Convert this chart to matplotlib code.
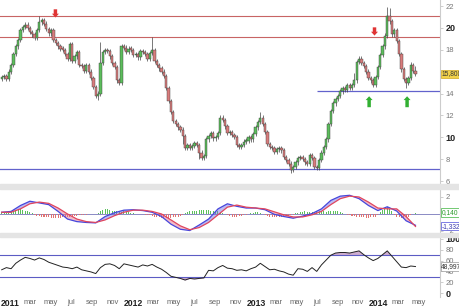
import numpy as np
import pandas as pd
import matplotlib
matplotlib.use('Agg')
import matplotlib.pyplot as plt
from matplotlib.patches import Rectangle

plt.rcParams['font.family'] = ['Liberation Sans', 'DejaVu Sans']

# weekly candles, Dec 2010 - Apr 2014
weeks = pd.date_range('2010-12-06', periods=177, freq='7D')
close = [15.5, 15.6, 15.3, 16.0, 16.6, 17.6, 18.3, 18.9, 19.8, 20.1,
         20.3, 20.0, 19.6, 19.4, 19.1, 19.8, 20.5, 20.7, 20.4, 19.9,
         19.5, 19.8, 18.9, 18.6, 18.3, 18.1, 18.0, 17.6, 17.2, 18.5,
         17.0, 17.4, 17.8, 16.6, 16.5, 16.1, 16.6, 16.0, 15.4, 14.6,
         13.8, 14.0, 16.8, 17.8, 18.0, 17.9, 17.4, 16.8, 16.4, 15.2,
         15.0, 18.3, 18.2, 17.8, 18.1, 18.0, 17.5, 17.6, 17.3, 17.9,
         17.8, 17.6, 17.2, 17.7, 18.0, 17.0, 16.6, 16.3, 16.0, 15.6,
         14.5, 13.3, 12.3, 11.5, 11.2, 10.9, 10.7, 10.1, 9.0, 9.3,
         9.0, 9.2, 9.5, 9.3, 8.6, 8.1, 8.3, 9.8, 10.1, 10.4,
         9.9, 10.0, 10.4, 11.8, 11.6, 11.0, 10.4, 10.5, 10.2, 10.0,
         9.3, 9.1, 9.3, 9.6, 9.7, 10.0, 9.8, 10.3, 10.9, 11.4,
         11.8, 11.2, 10.5, 9.4, 9.1, 9.0, 8.7, 8.9, 9.0, 8.8,
         8.2, 7.9, 7.6, 7.0, 7.3, 7.7, 8.1, 8.2, 8.0, 7.7,
         7.6, 8.4, 8.1, 7.3, 7.2, 7.9, 8.6, 9.1, 9.8, 11.2,
         12.4, 13.1, 13.5, 13.8, 14.2, 14.5, 14.3, 14.8, 14.5, 14.8,
         15.2, 16.9, 17.2, 16.8, 16.5, 16.0, 15.4, 15.2, 14.8, 15.5,
         16.4, 17.5, 18.3, 19.3, 21.1, 20.6, 19.4, 19.8, 18.8, 17.6,
         16.2, 15.3, 15.0, 15.4, 16.6, 16.1, 15.8]
first_open = 15.3
long_highs = {16: 21.1, 42: 18.7, 64: 19.2, 110: 12.3, 150: 15.9, 164: 21.9,
              165: 21.8, 174: 16.9, 176: 16.5}
long_lows = {41: 13.4, 77: 9.4, 84: 8.0, 123: 6.7, 134: 7.0, 172: 14.5}

# MACD (every 4th week)
macd = [0.2, 0.3, 1.0, 1.5, 1.3, 1.1, 0.3, -0.6, -0.9, -1.0,
        -1.05, -0.3, 0.15, 0.45, 0.5, 0.4, 0.2, -0.3, -1.2, -1.8,
        -1.95, -1.3, -0.6, 0.6, 1.2, 0.9, 0.7, 0.7, 0.5, -0.05,
        -0.3, -0.5, -0.25, 0.05, 0.6, 1.6, 2.1, 2.2, 1.8, 1.0,
        0.4, 0.85, 0.35, -0.8, -1.332]
signal = [0.2, 0.2, 0.6, 1.2, 1.4, 1.25, 0.7, 0.0, -0.6, -0.9,
          -1.0, -0.7, -0.2, 0.2, 0.45, 0.45, 0.3, 0.0, -0.7, -1.4,
          -1.85, -1.6, -1.0, -0.1, 0.8, 1.05, 0.8, 0.7, 0.6, 0.25,
          -0.1, -0.35, -0.35, -0.1, 0.3, 1.1, 1.8, 2.1, 2.0, 1.4,
          0.7, 0.6, 0.6, -0.3, -1.47]
hist = [0.1, 0.1, 0.1, 0.1, 0.3, 0.4, 0.5, 0.6, 0.6, 0.5,
        0.4, 0.3, 0.2, 0.1, -0.1, -0.2, -0.2, -0.3, -0.4, -0.4,
        -0.4, -0.5, -0.5, -0.5, -0.5, -0.5, -0.4, -0.4, -0.3, -0.3,
        -0.3, -0.2, -0.2, -0.1, -0.1, -0.1, -0.1, -0.05, -0.05, 0.0,
        0.05, 0.1, 0.3, 0.5, 0.6, 0.6, 0.5, 0.4, 0.4, 0.3,
        0.2, 0.2, 0.3, 0.2, 0.2, 0.1, 0.1, 0.05, 0.05, 0.0,
        -0.05, -0.1, -0.1, -0.1, -0.2, -0.3, -0.4, -0.4, -0.5, -0.5,
        -0.5, -0.5, -0.5, -0.4, -0.4, -0.3, -0.2, -0.1, 0.1, 0.2,
        0.3, 0.3, 0.4, 0.4, 0.5, 0.5, 0.5, 0.5, 0.5, 0.4,
        0.4, 0.3, 0.3, 0.2, 0.1, 0.0, -0.1, -0.2, -0.3, -0.3,
        -0.3, -0.2, -0.2, -0.1, -0.1, 0.0, 0.1, 0.1, 0.2, 0.2,
        0.1, 0.0, -0.1, -0.2, -0.3, -0.4, -0.4, -0.4, -0.3, -0.3,
        -0.3, -0.2, -0.2, -0.1, -0.1, 0.1, 0.1, 0.2, 0.2, 0.3,
        0.2, 0.2, 0.2, 0.2, 0.3, 0.3, 0.3, 0.3, 0.2, 0.3,
        0.4, 0.4, 0.3, 0.3, 0.2, 0.1, 0.0, -0.1, -0.1, -0.2,
        -0.2, -0.3, -0.3, -0.4, -0.4, -0.5, -0.5, -0.4, -0.4, -0.3,
        -0.1, 0.2, 0.5, 0.7, 0.8, 0.6, 0.3, -0.1, -0.3, -0.4,
        -0.5, -0.5, -0.4, -0.3, -0.1, 0.0, 0.14]

# RSI (every 2nd week)
rsi = [43, 47, 45, 55, 61, 66, 64, 61, 65, 62,
       57, 54, 51, 48, 47, 45, 48, 43, 41, 39,
       36, 47, 53, 54, 51, 45, 54, 52, 50, 48,
       52, 50, 53, 48, 44, 38, 31, 29, 27, 24,
       27, 26, 27, 28, 42, 41, 47, 51, 46, 45,
       42, 43, 41, 45, 48, 55, 49, 43, 44, 41,
       39, 35, 33, 45, 44, 40, 47, 40, 52, 61,
       70, 74, 75, 75, 74, 76, 78, 71, 65, 60,
       64, 71, 78, 68, 58, 48, 47, 50, 48.997]

resist = [21.1, 19.2]
support = 7.1
support2 = 14.25
support2_from = '2013-07-03'
sell_marks = [('2011-05-15', 21.7, 20.95), ('2013-12-20', 20.05, 19.3)]
buy_marks = [('2013-12-04', 12.75, 13.75), ('2014-03-27', 12.75, 13.75)]
last_price = '15,800'

W, H = 460, 308
fig = plt.figure(figsize=(W / 100, H / 100), dpi=100)

def px_axes(y0, y1):
    return fig.add_axes([0, 1 - y1 / H, 440 / W, (y1 - y0) / H])

ax = px_axes(0, 184)
axm = px_axes(189, 233)
axr = px_axes(237, 297)
for y0, y1 in [(184, 189), (233, 237)]:
    fig.patches.append(Rectangle((0, 1 - y1 / H), 1, (y1 - y0) / H,
                                 transform=fig.transFigure, color='#e4e4e4', zorder=0))

xmin, xmax = pd.Timestamp('2010-12-01'), pd.Timestamp('2014-07-03')
for a in (ax, axm, axr):
    a.set_xlim(xmin, xmax)
    for s in ('top', 'left', 'bottom'):
        a.spines[s].set_visible(False)
    a.spines['right'].set_color('#cccccc')
    a.spines['right'].set_linewidth(0.8)
    a.yaxis.tick_right()
    a.tick_params(axis='y', length=2, width=0.5, color='#bbbbbb', pad=2,
                  labelsize=5.5, labelcolor='#777777')
    a.tick_params(axis='x', length=0)

# --- price panel
opens = [first_open] + close[:-1]
highs = [long_highs.get(i, max(o, c) + 0.2) for i, (o, c) in enumerate(zip(opens, close))]
lows = [long_lows.get(i, min(o, c) - 0.2) for i, (o, c) in enumerate(zip(opens, close))]
up = [c >= o for o, c in zip(opens, close)]
ax.vlines(weeks, lows, highs, color='#444444', lw=0.5, zorder=2)
bottoms = [min(o, c) for o, c in zip(opens, close)]
heights = [max(abs(c - o), 0.12) for o, c in zip(opens, close)]
ax.bar(weeks, heights, bottom=bottoms, width=6.8,
       color=['#5cbd5c' if u else '#d97c7c' for u in up],
       edgecolor='#3a3a3a', linewidth=0.3, zorder=3)

for r in resist:
    ax.axhline(r, color='#c86464', lw=0.8, zorder=1)
ax.axhline(support, color='#6262cc', lw=0.9, zorder=1)
ax.hlines(support2, pd.Timestamp(support2_from), xmax, color='#6262cc', lw=0.9, zorder=1)

arrow = 'simple,head_length=0.55,head_width=1.0,tail_width=0.5'
for d, y0, y1 in sell_marks:
    ax.annotate('', xy=(pd.Timestamp(d), y1), xytext=(pd.Timestamp(d), y0),
                arrowprops=dict(arrowstyle=arrow, color='#e03434', mutation_scale=5,
                                lw=0, shrinkA=0, shrinkB=0), zorder=5)
for d, y0, y1 in buy_marks:
    ax.annotate('', xy=(pd.Timestamp(d), y1), xytext=(pd.Timestamp(d), y0),
                arrowprops=dict(arrowstyle=arrow, color='#32b032', mutation_scale=5,
                                lw=0, shrinkA=0, shrinkB=0), zorder=5)

ax.set_ylim(5.73, 22.55)
ax.set_yticks(range(6, 23, 2))
# 16 sits under the last-price box
ax.set_yticklabels(['' if v == 16 else str(v) for v in range(6, 23, 2)])
ax.set_xticks([])
for t in ax.get_yticklabels():
    if t.get_text() in ('10', '20'):
        t.set_color('#222222')
        t.set_fontweight('bold')
        t.set_fontsize(6.5)
ax.text(1.003, 15.8, last_price, transform=ax.get_yaxis_transform(), fontsize=4.8,
        va='center', ha='left', color='#333333', zorder=6, clip_on=False,
        bbox=dict(boxstyle='square,pad=0.12', fc='#f2d24a', ec='#d0a820', lw=0.5))

# --- MACD panel
mdates_ = weeks[::4]
axm.axhline(0, color='#8a8ac4', lw=0.7, zorder=1)
axm.bar(weeks, hist, width=3.0, color=['#5cc05c' if h >= 0 else '#e07272' for h in hist],
        zorder=2)
m = np.array(macd)
s = np.array(signal)
axm.fill_between(mdates_, m, s, where=m >= s, color='#6a6ae6', alpha=0.45, lw=0,
                 interpolate=True, zorder=3)
axm.fill_between(mdates_, m, s, where=m < s, color='#e06a8a', alpha=0.45, lw=0,
                 interpolate=True, zorder=3)
axm.plot(mdates_, macd, color='#4646dc', lw=0.9, zorder=4)
axm.plot(mdates_, signal, color='#e0465e', lw=0.9, zorder=4)
axm.set_ylim(-2.24, 2.94)
axm.set_yticks([-2, 2])
axm.set_xticks([])
axm.text(1.003, hist[-1], '0,140', transform=axm.get_yaxis_transform(), fontsize=4.8,
         va='center', ha='left', color='#2e9a2e', zorder=6, clip_on=False,
         bbox=dict(boxstyle='square,pad=0.12', fc='white', ec='#5cc05c', lw=0.6))
axm.text(1.003, macd[-1] - 0.1, '-1,332', transform=axm.get_yaxis_transform(), fontsize=4.8,
         va='center', ha='left', color='#3a3ab0', zorder=6, clip_on=False,
         bbox=dict(boxstyle='square,pad=0.12', fc='white', ec='#6a6ae0', lw=0.6))

# --- RSI panel
rdates = weeks[::2]
rv = np.array(rsi)
axr.fill_between(rdates, rv, 70, where=rv >= 70, interpolate=True, color='#cfaed0',
                 lw=0, zorder=1)
axr.fill_between(rdates, rv, 30, where=rv <= 30, interpolate=True, color='#cfaed0',
                 lw=0, zorder=1)
axr.axhline(70, color='#5c5cc4', lw=0.8, zorder=2)
axr.axhline(30, color='#5c5cc4', lw=0.8, zorder=2)
axr.plot(rdates, rsi, color='#222222', lw=0.7, zorder=3)
axr.set_ylim(-7.4, 103.7)
axr.set_yticks([0, 20, 40, 60, 80, 100])
for t in axr.get_yticklabels():
    if t.get_text() in ('0', '100'):
        t.set_color('#222222')
        t.set_fontweight('bold')
        t.set_fontsize(6.5)
axr.text(1.003, rsi[-1], '48,997', transform=axr.get_yaxis_transform(), fontsize=4.8,
         va='center', ha='left', color='#333333', zorder=6, clip_on=False,
         bbox=dict(boxstyle='square,pad=0.12', fc='white', ec='#999999', lw=0.5))

# x labels
ticks, labels = [], []
for yr in range(2011, 2015):
    for mo, name in [(1, str(yr)), (3, 'mar'), (5, 'may'), (7, 'jul'), (9, 'sep'), (11, 'nov')]:
        d = pd.Timestamp(yr, mo, 1)
        if d < pd.Timestamp('2014-06-01'):
            ticks.append(d)
            labels.append(name)
axr.set_xticks(ticks)
axr.set_xticklabels(labels)
axr.tick_params(axis='x', pad=1.5)
for t in axr.get_xticklabels():
    if t.get_text().isdigit():
        t.set_fontweight('bold')
        t.set_fontsize(6.2)
        t.set_color('#222222')
    else:
        t.set_fontsize(5.5)
        t.set_color('#666666')

fig.savefig('out.png', dpi=100)
